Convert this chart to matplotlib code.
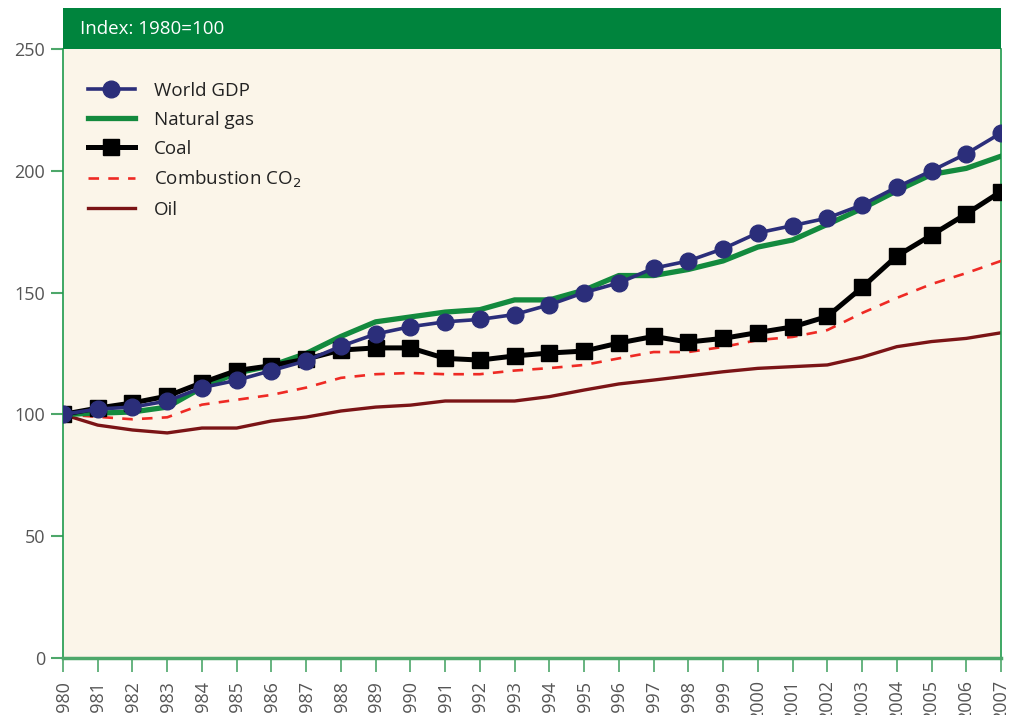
import numpy as np
import matplotlib.pyplot as plt
from matplotlib.patches import Rectangle

years = list(range(1980, 2008))

world_gdp = [100, 102.2, 103, 105.5, 111, 114, 118, 122, 128, 133, 136, 138, 139, 141,
             145, 150, 154, 160, 163, 168, 174.5, 177.5, 180.6, 186, 193.3, 200, 207, 215.5]
natural_gas = [100, 100.5, 101, 103, 111, 117, 120, 125, 132, 138, 140, 142, 143, 147,
               147, 151, 157, 157, 159.5, 163, 168.7, 171.6, 178, 184.5, 191.8, 198.5, 201, 206]
coal = [100, 102.6, 104.7, 107.5, 113, 118, 120, 122.7, 126.4, 127.3, 127.3, 123, 122.3, 124,
        125.2, 126, 129.3, 132, 129.7, 131.2, 133.6, 135.9, 140.2, 152.1, 165, 173.6, 182.3, 191.5]
co2 = [100, 99, 98, 98.8, 104, 106, 108, 111, 115, 116.5, 117, 116.5, 116.5, 118,
       119, 120.3, 123, 125.6, 125.6, 127.7, 130.5, 131.8, 134.6, 141.6, 147.8, 153.5, 158, 163]
oil = [100, 95.6, 93.6, 92.4, 94.4, 94.4, 97.3, 98.9, 101.4, 103, 103.8, 105.5, 105.5, 105.5,
       107.3, 110, 112.5, 114.1, 115.8, 117.5, 118.9, 119.6, 120.3, 123.5, 127.8, 129.9, 131.2, 133.5]

plt.rcParams['font.family'] = ['Open Sans', 'DejaVu Sans']

fig = plt.figure(figsize=(10.1, 7.15), dpi=100)
ax = fig.add_axes([63 / 1010, 1 - 658 / 715, 938 / 1010, 609 / 715])
ax.set_facecolor('#FBF5E9')

ax.plot(years, oil, color='#7B1416', lw=2.4, label='Oil', zorder=2)
ax.plot(years, co2, color='#EE2A24', lw=1.9, ls=(0, (4, 3.5)), label='Combustion CO$_2$', zorder=3)
ax.plot(years, natural_gas, color='#138A3E', lw=3.8, label='Natural gas', zorder=4)
ax.plot(years, coal, color='black', lw=3.6, marker='s', ms=11, label='Coal', zorder=5)
ax.plot(years, world_gdp, color='#2B2E7A', lw=2.6, marker='o', ms=12, label='World GDP', zorder=6)

ax.set_xlim(1980, 2007)
ax.set_ylim(0, 250)
ax.set_yticks([0, 50, 100, 150, 200, 250])
ax.set_xticks(years)
ax.set_xticklabels([str(y) for y in years], rotation=90)

green_axis = '#4DA76A'
for side in ['left', 'right']:
    ax.spines[side].set_color('#1E9A4C')
    ax.spines[side].set_linewidth(1.2)
ax.spines['bottom'].set_color(green_axis)
ax.spines['bottom'].set_linewidth(2.5)
ax.spines['top'].set_visible(False)
ax.tick_params(axis='y', colors=green_axis, labelcolor='#555555', labelsize=13,
               length=9, width=1.5, pad=4)
ax.tick_params(axis='x', colors=green_axis, labelcolor='#555555', labelsize=13,
               length=10, width=1.2, pad=6)

# green header band
ax.add_patch(Rectangle((0, 1), 1, 41 / 609, transform=ax.transAxes, facecolor='#00843D',
                       edgecolor='none', clip_on=False, zorder=10))
ax.text(17 / 938, 1 + 20 / 609, 'Index: 1980=100', transform=ax.transAxes, color='white',
        fontsize=13.5, va='center', ha='left', zorder=11)

handles, labels = ax.get_legend_handles_labels()
order = [4, 2, 3, 1, 0]
ax.legend([handles[i] for i in order], [labels[i] for i in order], loc='upper left',
          bbox_to_anchor=(25 / 938, 1 - 33 / 609), borderaxespad=0, borderpad=0,
          frameon=False, fontsize=13.5, handlelength=2.5, labelspacing=0.58,
          handletextpad=1.0, labelcolor='#222222')

fig.savefig('out.png', dpi=100)
